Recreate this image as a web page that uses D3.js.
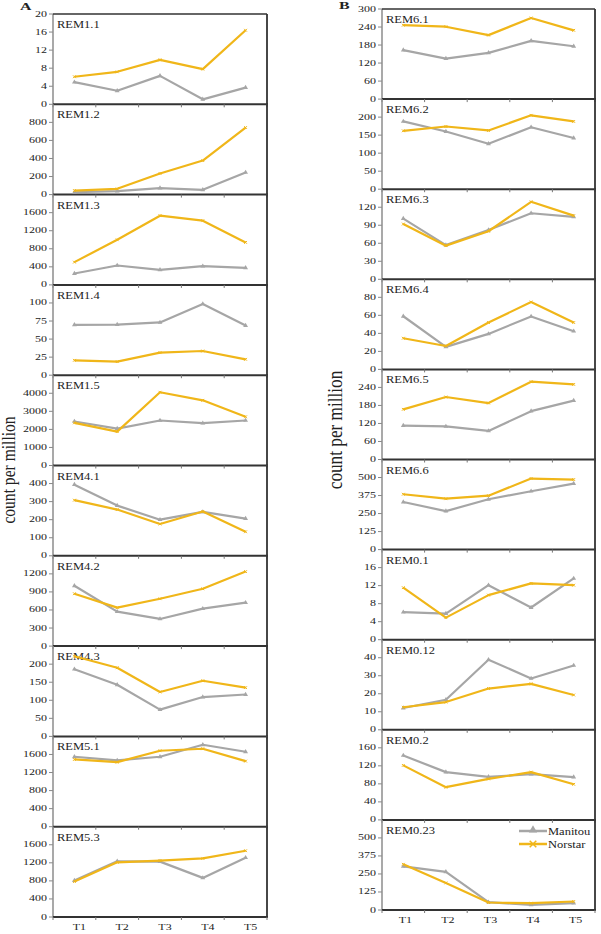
<!DOCTYPE html>
<html>
<head>
<meta charset="utf-8">
<script src="https://cdn.jsdelivr.net/npm/d3@7"></script>
<style>
  html, body { margin: 0; padding: 0; background: #fff; }
  svg { display: block; }
  text { font-family: "Liberation Serif", "Times New Roman", serif; fill: #222; }
</style>
</head>
<body>
<svg id="chart" width="601" height="934"></svg>
<script>
// ---------- data ----------
const periods = ["T1", "T2", "T3", "T4", "T5"];
const seriesNames = ["Manitou", "Norstar"];

const labelsA = ["REM1.1", "REM1.2", "REM1.3", "REM1.4", "REM1.5", "REM4.1", "REM4.2", "REM4.3", "REM5.1", "REM5.3"];
const stepsA = [4, 200, 400, 25, 1000, 100, 300, 50, 400, 400];
const manitouA = [
  [4.9, 3.0, 6.3, 1.1, 3.7],
  [26, 38, 72, 53, 245],
  [252, 430, 333, 415, 378],
  [69.7, 70, 73, 98.6, 68.8],
  [2437, 2046, 2493, 2344, 2493],
  [394, 278, 200, 243, 206],
  [1002, 572, 451, 622, 721],
  [186, 143, 74, 109, 116],
  [1549, 1467, 1549, 1815, 1660],
  [807, 1233, 1226, 866, 1314]
];
const norstarA = [
  [6.1, 7.2, 9.85, 7.8, 16.4],
  [45, 64, 234, 377, 743],
  [504, 1000, 1533, 1422, 941],
  [20.6, 18.8, 31.2, 33.5, 22],
  [2363, 1879, 4056, 3609, 2698],
  [308, 256, 176, 245, 133],
  [870, 639, 787, 952, 1238],
  [222, 190, 123, 154, 135],
  [1489, 1430, 1682, 1727, 1452],
  [785, 1211, 1248, 1299, 1468]
];

const labelsB = ["REM6.1", "REM6.2", "REM6.3", "REM6.4", "REM6.5", "REM6.6", "REM0.1", "REM0.12", "REM0.2", "REM0.23"];
const stepsB = [60, 50, 30, 20, 60, 125, 4, 10, 40, 125];
const manitouB = [
  [163, 135, 154, 194, 176],
  [188, 160, 126, 172, 142],
  [101, 57, 82, 110, 104],
  [59, 25, 39.4, 58.8, 42.4],
  [113, 110, 95, 161, 196],
  [330, 267, 349, 405, 458],
  [6.1, 5.8, 12.1, 7.15, 13.6],
  [12.1, 16.7, 38.9, 28.5, 35.7],
  [143, 106, 95.5, 101.5, 95],
  [303, 265, 54, 35, 47]
];
const norstarB = [
  [246, 241, 213, 270, 229],
  [162, 174, 163, 205, 188],
  [92, 56, 80, 129, 106],
  [34.6, 26, 52, 74.8, 52],
  [167, 208, 188, 259, 250],
  [384, 353, 374, 493, 486],
  [11.55, 4.9, 9.9, 12.5, 12.1],
  [12.5, 15.4, 22.9, 25.5, 19.3],
  [121, 72.6, 91, 106, 79],
  [317, 188, 52, 47, 59]
];

// ---------- style ----------
const GRAY = "#a6a6a6";
const GOLD = "#f0b619";
const SQ = 0.72; // vertical squash of text to mimic the source

const svg = d3.select("#chart");

function sqText(g, x, y, str, opts = {}) {
  const t = g.append("text")
    .attr("transform", `translate(${x},${y}) scale(1,${opts.sq || SQ})`)
    .attr("font-size", opts.size || 12)
    .attr("text-anchor", opts.anchor || "start")
    .text(str);
  if (opts.weight) t.attr("font-weight", opts.weight);
  return t;
}

function drawColumn(cfg) {
  const { x0, x1, top, pitch, labels, steps, man, nor, showTopFirst, xLabelShift } = cfg;
  const x = d3.scalePoint().domain(periods).range([x0, x1]).padding(0.5);
  const band = (x1 - x0) / periods.length;
  const n = labels.length;

  labels.forEach((lab, i) => {
    const pt = top + i * pitch;
    const pb = top + (i + 1) * pitch;
    const step = steps[i];
    const y = d3.scaleLinear().domain([0, step * 5]).range([pb, pt]);
    const g = svg.append("g");

    // y ticks
    const maxTick = (i === 0 && showTopFirst) ? 5 : 4;
    const ticks = d3.range(0, maxTick + 1).map(k => k * step);
    ticks.forEach(v => {
      const yy = y(v);
      g.append("line").attr("x1", x0 - 4).attr("x2", x0).attr("y1", yy).attr("y2", yy)
        .attr("stroke", "#888").attr("stroke-width", 1);
      sqText(g, x0 - 6, yy + 2.5, d3.format("d")(v), { anchor: "end", size: 12 });
    });

    // left axis
    g.append("line").attr("x1", x0).attr("x2", x0).attr("y1", pt).attr("y2", pb)
      .attr("stroke", "#8c8c8c").attr("stroke-width", 1.5);
    // right / top border
    g.append("line").attr("x1", x1).attr("x2", x1).attr("y1", pt).attr("y2", pb)
      .attr("stroke", "#333").attr("stroke-width", 1.8);
    if (i === 0) {
      g.append("line").attr("x1", x0).attr("x2", x1).attr("y1", pt).attr("y2", pt)
        .attr("stroke", "#333").attr("stroke-width", 1.5);
    }
    // bottom (zero) line with category ticks
    g.append("line").attr("x1", x0).attr("x2", x1 + 1).attr("y1", pb).attr("y2", pb)
      .attr("stroke", "#333").attr("stroke-width", 2);
    for (let k = 0; k <= periods.length; k++) {
      const bx = x0 + k * band;
      g.append("line").attr("x1", bx).attr("x2", bx).attr("y1", pb).attr("y2", pb + 3)
        .attr("stroke", "#777").attr("stroke-width", 1);
    }

    // panel label
    sqText(g, x0 + 4, pt + 14, lab, { size: 12.5, sq: 0.75 });

    // lines
    const line = d3.line().x((d, j) => x(periods[j])).y(d => y(d));
    g.append("path").datum(man[i]).attr("d", line).attr("fill", "none")
      .attr("stroke", GRAY).attr("stroke-width", 2.2).attr("stroke-linejoin", "round");
    g.selectAll(".mtri").data(man[i]).join("path")
      .attr("d", d3.symbol(d3.symbolTriangle, 10)())
      .attr("transform", (d, j) => `translate(${x(periods[j])},${y(d)})`)
      .attr("fill", GRAY);
    g.append("path").datum(nor[i]).attr("d", line).attr("fill", "none")
      .attr("stroke", GOLD).attr("stroke-width", 2.2).attr("stroke-linejoin", "round");
    g.selectAll(".nx").data(nor[i]).join("path")
      .attr("d", d3.symbol(d3.symbolX, 6)())
      .attr("transform", (d, j) => `translate(${x(periods[j])},${y(d)})`)
      .attr("stroke", GOLD).attr("stroke-width", 1).attr("fill", "none");

    if (i === n - 1) {
      periods.forEach(p => {
        sqText(g, x(p) + xLabelShift, pb + 13, p, { anchor: "middle", size: 12 });
      });
    }
  });
}

drawColumn({ x0: 53, x1: 267, top: 14, pitch: 90.3, labels: labelsA, steps: stepsA,
  man: manitouA, nor: norstarA, showTopFirst: true, xLabelShift: 5 });
drawColumn({ x0: 382, x1: 595, top: 9, pitch: 90.1, labels: labelsB, steps: stepsB,
  man: manitouB, nor: norstarB, showTopFirst: true, xLabelShift: 2 });

// section letters
sqText(svg, 20, 10, "A", { size: 16, weight: "bold", sq: 0.62 });
sqText(svg, 339, 9, "B", { size: 16, weight: "bold", sq: 0.62 });

// y axis titles
svg.append("text")
  .attr("transform", "translate(15,470) scale(1,0.82) rotate(-90)")
  .attr("font-size", 19).attr("text-anchor", "middle").text("count per million");
svg.append("text")
  .attr("transform", "translate(342,430) scale(1,0.82) rotate(-90)")
  .attr("font-size", 21).attr("text-anchor", "middle").text("count per million");

// legend (inside REM0.23 panel)
const lg = svg.append("g");
const legendColors = [GRAY, GOLD];
seriesNames.forEach((name, k) => {
  const ly = 831 + k * 13;
  lg.append("line").attr("x1", 519).attr("x2", 547).attr("y1", ly).attr("y2", ly)
    .attr("stroke", legendColors[k]).attr("stroke-width", 2.5);
  if (k === 0) {
    lg.append("path").attr("d", d3.symbol(d3.symbolTriangle, 30)())
      .attr("transform", `translate(533,${ly - 1})`).attr("fill", GRAY);
  } else {
    lg.append("path").attr("d", d3.symbol(d3.symbolX, 30)())
      .attr("transform", `translate(533,${ly})`).attr("stroke", GOLD)
      .attr("stroke-width", 1.5).attr("fill", "none");
  }
  sqText(lg, 548, ly + 4, name, { size: 12.5, sq: 0.85 });
});
</script>
</body>
</html>
